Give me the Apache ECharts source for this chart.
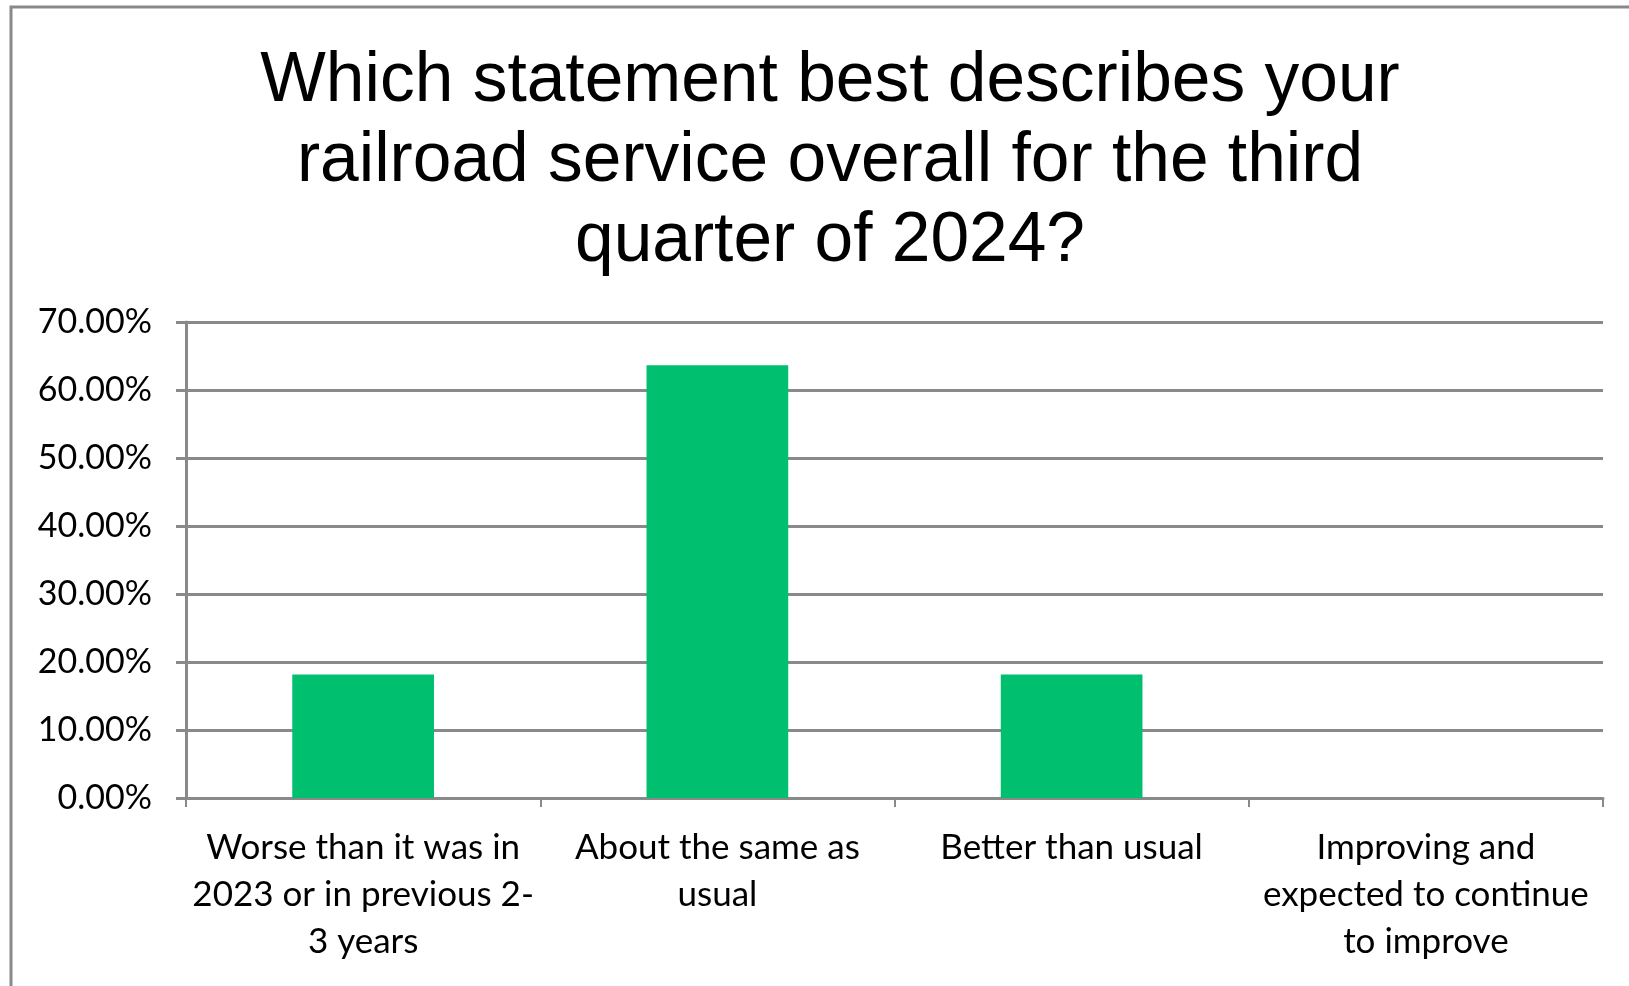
<!DOCTYPE html>
<html lang="en" style="height: 100%">
  <head>
    <meta charset="utf-8" />
    <style>
      html, body { margin: 0; padding: 0; background: #fff; }
      #container { width: 1629px; height: 986px; }
    </style>
  </head>
  <body>
    <div id="container"></div>
    <script type="text/javascript" src="https://cdn.jsdelivr.net/npm/echarts@6/dist/echarts.min.js"></script>
    <script type="text/javascript">
      // survey answers (share of respondents)
      var categories = [
        "Worse than it was in\n2023 or in previous 2-\n3 years",
        "About the same as\nusual",
        "Better than usual",
        "Improving and\nexpected to continue\nto improve",
      ];
      var shares = [0.1818, 0.6364, 0.1818, 0];
      var yTicks = [0, 0.1, 0.2, 0.3, 0.4, 0.5, 0.6, 0.7];

      var dom = document.getElementById("container");
      var myChart = echarts.init(dom, null, { renderer: "canvas" });

      var gray = "#898989";
      var labelFont = "Lato";

      var option = {
        animation: false,
        backgroundColor: "#fff",
        graphic: [
          {
            type: "rect",
            shape: { x: 11, y: 7, width: 1700, height: 1100 },
            style: { fill: null, stroke: gray, lineWidth: 3 },
            silent: true,
          },
        ],
        title: {
          text: "Which statement best describes your\nrailroad service overall for the third\nquarter of 2024?",
          left: 825,
          top: 37,
          textAlign: "center",
          textStyle: {
            fontFamily: "Liberation Sans",
            fontSize: 69.5,
            fontWeight: "normal",
            lineHeight: 80,
            color: "#000",
          },
        },
        grid: { left: 186, right: 26, top: 322, bottom: 188 },
        xAxis: {
          type: "category",
          data: categories,
          axisLine: { lineStyle: { color: gray, width: 3 } },
          axisTick: { show: true, length: 9, lineStyle: { color: gray, width: 2 } },
          axisLabel: {
            fontFamily: labelFont,
            fontSize: 35,
            color: "#000",
            lineHeight: 47,
            margin: 26,
            interval: 0,
          },
        },
        yAxis: {
          type: "value",
          min: 0,
          max: yTicks[yTicks.length - 1],
          interval: yTicks[1] - yTicks[0],
          axisLine: { show: true, lineStyle: { color: gray, width: 3 } },
          axisTick: { show: true, length: 10, lineStyle: { color: gray, width: 3 } },
          splitLine: { lineStyle: { color: gray, width: 3 } },
          axisLabel: {
            fontFamily: labelFont,
            fontSize: 34,
            color: "#000",
            margin: 34,
            formatter: function (v) {
              return (v * 100).toFixed(2) + "%";
            },
          },
        },
        series: [
          {
            type: "bar",
            data: shares,
            barWidth: "40%",
            itemStyle: { color: "#00BF6F" },
          },
        ],
      };

      myChart.setOption(option);
      window.addEventListener("resize", myChart.resize);
    </script>
  </body>
</html>
